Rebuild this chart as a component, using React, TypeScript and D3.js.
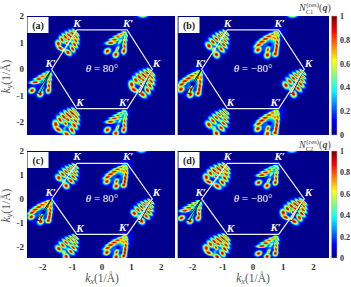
import React from "react";
import * as d3 from "d3";

type Lobe = [number, number, number, number, number, number];

const xTicks = [-2, -1, 0, 1, 2];
const yTicks = [-2, -1, 0, 1, 2];
const barTicks = [0, 0.2, 0.4, 0.6, 0.8, 1];
const jetStops = [0, 0.125, 0.375, 0.625, 0.875, 1];
const jetColors = ["#00008c", "#0000ff", "#00ffff", "#ffff00", "#ff0000", "#800000"];
const levels = [0.05, 0.08, 0.12, 0.16, 0.2, 0.25, 0.3, 0.35, 0.4, 0.45, 0.5, 0.55, 0.6, 0.65, 0.7, 0.75, 0.8, 0.85, 0.9, 0.95, 1.0];

// s, t, long sigma, short sigma, lean in degrees, peak
const narrowLobes: Lobe[] = [
  [0.5, 0, 0.38, 0.11, 0, 0.16],
  [0.1, -0.05, 0.08, 0.03, 75, 0.8], [0.21, -0.09, 0.1, 0.034, 75, 0.85], [0.33, -0.13, 0.12, 0.038, 75, 0.9],
  [0.47, -0.16, 0.13, 0.044, 72, 0.95], [0.63, -0.2, 0.13, 0.052, 70, 0.95], [0.82, -0.24, 0.11, 0.07, 60, 0.98],
  [0.13, 0.05, 0.08, 0.03, 75, 0.8], [0.26, 0.09, 0.1, 0.034, 75, 0.85], [0.39, 0.13, 0.12, 0.038, 75, 0.9],
  [0.54, 0.16, 0.13, 0.046, 72, 0.95], [0.72, 0.17, 0.12, 0.055, 70, 0.95], [0.98, 0.14, 0.1, 0.075, 50, 0.98],
  [0.86, -0.02, 0.07, 0.055, 40, 0.7],
];
const wideLobes: Lobe[] = [
  [0.52, -0.03, 0.4, 0.17, 0, 0.2],
  [0.09, -0.06, 0.1, 0.034, 70, 0.8], [0.2, -0.12, 0.12, 0.04, 70, 0.9], [0.33, -0.18, 0.13, 0.045, 70, 0.95],
  [0.47, -0.24, 0.13, 0.05, 68, 0.98], [0.63, -0.29, 0.12, 0.058, 60, 0.98], [0.84, -0.33, 0.11, 0.075, 40, 0.98],
  [0.22, -0.02, 0.09, 0.038, 70, 0.85], [0.36, -0.04, 0.09, 0.04, 70, 0.9], [0.5, -0.06, 0.09, 0.044, 70, 0.95], [0.66, -0.06, 0.08, 0.046, 60, 0.95],
  [0.14, 0.08, 0.1, 0.034, 70, 0.8], [0.27, 0.13, 0.12, 0.04, 70, 0.9], [0.41, 0.18, 0.13, 0.045, 70, 0.95],
  [0.57, 0.22, 0.13, 0.05, 65, 0.98], [0.76, 0.24, 0.12, 0.058, 55, 0.98], [0.98, 0.17, 0.12, 0.068, 75, 0.98],
  [0.97, -0.16, 0.12, 0.06, 85, 0.98], [0.82, 0.0, 0.06, 0.045, 0, 0.4],
];
const thinFanLobes: Lobe[] = [
  [0.5, 0, 0.36, 0.16, 0, 0.22],
  [0.13, -0.05, 0.07, 0.028, -62, 0.75], [0.25, -0.1, 0.095, 0.032, -62, 0.85], [0.38, -0.15, 0.11, 0.036, -62, 0.92],
  [0.53, -0.2, 0.125, 0.04, -60, 0.98], [0.7, -0.25, 0.13, 0.048, -55, 0.98], [1.02, -0.19, 0.09, 0.072, -15, 0.98],
  [0.5, 0.0, 0.1, 0.03, 0, 0.65], [0.78, 0.06, 0.09, 0.036, 5, 0.8], [0.99, 0.12, 0.09, 0.072, 8, 0.98],
  [0.17, 0.06, 0.07, 0.026, 52, 0.7], [0.3, 0.1, 0.09, 0.032, 52, 0.82], [0.44, 0.15, 0.1, 0.036, 50, 0.9], [0.58, 0.22, 0.1, 0.042, 45, 0.95], [0.74, 0.29, 0.09, 0.062, 22, 0.98],
];
const bigFanLobes: Lobe[] = [
  [0.5, 0.0, 0.38, 0.19, 0, 0.34],
  [0.12, -0.05, 0.07, 0.032, -55, 0.8], [0.24, -0.11, 0.1, 0.036, -55, 0.88], [0.37, -0.17, 0.12, 0.04, -55, 0.95],
  [0.51, -0.22, 0.13, 0.044, -52, 0.98], [0.66, -0.27, 0.13, 0.048, -48, 0.98], [0.82, -0.3, 0.12, 0.052, -35, 0.98], [0.99, -0.23, 0.095, 0.075, -10, 0.98],
  [0.15, 0.06, 0.07, 0.03, 50, 0.8], [0.28, 0.12, 0.1, 0.036, 50, 0.88], [0.42, 0.18, 0.11, 0.04, 48, 0.95], [0.56, 0.24, 0.11, 0.046, 42, 0.98], [0.7, 0.3, 0.1, 0.05, 35, 0.98], [0.84, 0.34, 0.08, 0.07, 20, 0.98],
  [0.34, -0.02, 0.08, 0.04, -8, 0.8], [0.34, 0.05, 0.08, 0.04, 8, 0.8],
  [0.82, 0.05, 0.1, 0.05, 10, 0.92], [1.0, 0.14, 0.095, 0.075, 10, 0.98],
  [0.62, 0.0, 0.06, 0.055, 0, -0.9],
];
const templates: Record<string, Lobe[]> = { narrow: narrowLobes, wide: wideLobes, thin: thinFanLobes, big: bigFanLobes };

const hexX = [-0.85, 0.85, 1.7, 0.85, -0.85, -1.7];
const hexY = [1.48, 1.48, 0, -1.48, -1.48, 0];
const hexNames = ["K", "K′", "K", "K′", "K", "K′"];
const labelDx = [0, 1, 4, -3, 3, -1];
const labelDy = [-3, -3, -2.5, -3, -2.5, -2.5];

const panelATemplates = ["wide", "thin", "wide", "thin", "wide", "thin"];
const panelBTemplates = ["narrow", "big", "narrow", "big", "narrow", "big"];
const panelCTemplates = ["narrow", "big", "narrow", "big", "narrow", "big"];
const panelDTemplates = ["wide", "thin", "wide", "thin", "wide", "thin"];
const panelAScale = [0.9, 1, 1, 1, 1.02, 1];

const panels = [
  { tag: "(a)", angle: "θ = 80°", left: 27, right: 175, top: 16, bottom: 135, kinds: panelATemplates, sizes: panelAScale, capX: 1.37, leftTick: true, bottomTick: false, labelX: 102 },
  { tag: "(b)", angle: "θ = −80°", left: 178, right: 329, top: 16, bottom: 135, kinds: panelBTemplates, sizes: [1, 1, 1, 1, 1, 1], capX: 1.3, leftTick: false, bottomTick: false, labelX: 253 },
  { tag: "(c)", angle: "θ = 80°", left: 27, right: 175, top: 151, bottom: 258, kinds: panelCTemplates, sizes: [1, 1, 1, 1, 1, 1], capX: 1.33, leftTick: true, bottomTick: true, labelX: 102 },
  { tag: "(d)", angle: "θ = −80°", left: 178, right: 329, top: 151, bottom: 258, kinds: panelDTemplates, sizes: [1, 1, 1, 1, 1, 1], capX: 1.28, leftTick: false, bottomTick: true, labelX: 253 },
];

const jet = d3.scaleLinear<string>().domain(jetStops).range(jetColors).clamp(true);
const serif = "'Liberation Serif', serif";
const axisDir = [-0.5, -0.866];
const axisPerp = [0.866, -0.5];

function field(p: (typeof panels)[number], x: d3.ScaleLinear<number, number>, y: d3.ScaleLinear<number, number>) {
  const w = Math.round((p.right - p.left) * 2);
  const h = Math.round((p.bottom - p.top) * 2);
  const values = new Float64Array(w * h);
  const mask = new Float64Array(w * h).fill(1);
  const add = (cx: number, cy: number, ux: number, uy: number, a: number, b: number, peak: number) => {
    const vx = -uy, vy = ux;
    const reach = 3.5 * a;
    const i0 = Math.max(0, Math.floor((x(cx - reach) - p.left) * 2));
    const i1 = Math.min(w - 1, Math.ceil((x(cx + reach) - p.left) * 2));
    const j0 = Math.max(0, Math.floor((y(cy + reach) - p.top) * 2));
    const j1 = Math.min(h - 1, Math.ceil((y(cy - reach) - p.top) * 2));
    for (let j = j0; j <= j1; j++) {
      const ky = y.invert(p.top + j / 2);
      for (let i = i0; i <= i1; i++) {
        const kx = x.invert(p.left + i / 2);
        const dx = kx - cx, dy = ky - cy;
        const e1 = dx * ux + dy * uy, e2 = dx * vx + dy * vy;
        const g = Math.abs(peak) * Math.exp(-0.5 * (e1 * e1 / (a * a) + e2 * e2 / (b * b)));
        if (peak < 0) mask[j * w + i] *= 1 - g;
        else values[j * w + i] += g * g * g;
      }
    }
  };
  p.kinds.forEach((kind, idx) => {
    const size = p.sizes[idx];
    templates[kind].forEach(([s, t, a, b, lean, peak]) => {
      const cx = hexX[idx] + size * (s * axisDir[0] + t * axisPerp[0]);
      const cy = hexY[idx] + size * (s * axisDir[1] + t * axisPerp[1]);
      const r = (lean * Math.PI) / 180;
      const ux = Math.cos(r) * axisDir[0] + Math.sin(r) * axisPerp[0];
      const uy = Math.cos(r) * axisDir[1] + Math.sin(r) * axisPerp[1];
      add(cx, cy, ux, uy, a * size, b * size, peak);
    });
  });
  add(p.capX, 2.07, 1, 0, 0.12, 0.08, 0.95);
  return { w, h, values: Array.from(values, (v, k) => Math.min(Math.cbrt(v) * mask[k], 1.05)) };
}

function Panel({ p, i }: { p: (typeof panels)[number]; i: number }) {
  const cx = p.labelX;
  const unit = (p.right - p.left) / 5;
  const x = d3.scaleLinear().domain([-2.5, 2.5]).range([cx - 2.5 * unit, cx + 2.5 * unit]);
  const y = d3.scaleLinear().domain([2, -2.47]).range([p.top, p.bottom]);
  const { w, h, values } = React.useMemo(() => field(p, x, y), []);
  const contours = React.useMemo(() => d3.contours().size([w, h]).thresholds(levels)(values), []);
  const path = d3.geoPath();
  const hexLine = d3.line<number>().x((_, k) => x(hexX[k])).y((_, k) => y(hexY[k])).curve(d3.curveLinearClosed);
  const id = `clip${i}`;
  const lineLeft = [[-1.7, 0], [-2.2, -0.88], [-2.1, -0.92]];
  const lineRight = [[1.7, 0], [1.2, -0.9], [1.3, -0.9]];
  const wedge = (pts: number[][]) => pts.map(([a, b]) => `${x(a)},${y(b)}`).join(" ");
  return (
    <g>
      <clipPath id={id}><rect x={p.left} y={p.top} width={p.right - p.left} height={p.bottom - p.top} /></clipPath>
      <g clipPath={`url(#${id})`}>
        <rect x={p.left} y={p.top} width={p.right - p.left} height={p.bottom - p.top} fill={jet(0)} />
        <g transform={`translate(${p.left},${p.top}) scale(0.5)`} filter="url(#soft)">
          {contours.map((c, k) => (
            <path key={k} d={path(c as any) || ""} fill={jet(c.value)} />
          ))}
        </g>
        <polygon points={wedge(lineLeft)} fill={i % 3 === 0 ? "#22c4e8" : "none"} stroke="#000" strokeWidth={0.8} />
        <polygon points={wedge(lineRight)} fill="#fff" stroke="#000" strokeWidth={0.8} />
        <path d={hexLine(hexX) || ""} fill="none" stroke="#eeeef8" strokeWidth={1.2} />
      </g>
      {i % 2 === 1 && <line x1={177.5} x2={177.5} y1={p.top} y2={p.bottom} stroke="#a8a8cc" strokeWidth={1} />}
      <rect x={p.left + 0.5} y={p.top + 1} width={21} height={16} fill="#fff" />
      <text x={p.left + 11} y={p.top + 13} textAnchor="middle" fontFamily={serif} fontWeight="bold" fontSize={10} fill="#222">{p.tag}</text>
      {hexNames.map((n, k) => (
        <text key={k} x={x(hexX[k]) + labelDx[k]} y={y(hexY[k]) + labelDy[k]} textAnchor="middle" fontFamily={serif} fontStyle="italic" fontWeight="bold" fontSize={11} fill="#fff">{n}</text>
      ))}
      <text x={x(0)} y={y(0) + 3} textAnchor="middle" fontFamily={serif} fontSize={11} fill="#fff">
        <tspan fontStyle="italic">θ</tspan>{p.angle.slice(1)}
      </text>
      {p.leftTick && yTicks.map((t) => (
        <text key={t} x={24} y={y(t) + 3} textAnchor="end" fontFamily={serif} fontWeight="bold" fontSize={9} fill="#333">{t}</text>
      ))}
      {p.bottomTick && xTicks.map((t) => (
        <text key={t} x={x(t)} y={p.bottom + 12} textAnchor="middle" fontFamily={serif} fontWeight="bold" fontSize={9} fill="#333">{t}</text>
      ))}
      {p.leftTick && (
        <text transform={`translate(10,${(p.top + p.bottom) / 2 + 1}) rotate(-90)`} textAnchor="middle" fontFamily={serif} fontSize={11.5} fill="#555">
          <tspan fontStyle="italic">k</tspan><tspan fontSize={8} dy={2} fontStyle="italic">y</tspan><tspan dy={-2}>(1/Å)</tspan>
        </text>
      )}
      {p.bottomTick && (
        <text x={cx} y={p.bottom + 24} textAnchor="middle" fontFamily={serif} fontSize={11.5} fill="#555">
          <tspan fontStyle="italic">k</tspan><tspan fontSize={8} dy={2} fontStyle="italic">x</tspan><tspan dy={-2}>(1/Å)</tspan>
        </text>
      )}
    </g>
  );
}

function ColorBar({ top, bottom, sub, titleY }: { top: number; bottom: number; sub: string; titleY: number }) {
  const y = d3.scaleLinear().domain([0, 1]).range([bottom, top]);
  const id = `jet${sub}`;
  return (
    <g>
      <defs>
        <linearGradient id={id} x1="0" x2="0" y1="1" y2="0">
          {jetStops.map((s, k) => <stop key={k} offset={s} stopColor={jetColors[k]} />)}
        </linearGradient>
      </defs>
      <rect x={331.5} y={top} width={5.5} height={bottom - top} fill={`url(#${id})`} stroke="#b0b0c0" strokeWidth={0.5} />
      {barTicks.map((t) => (
        <text key={t} x={340} y={y(t) + 3} fontFamily={serif} fontWeight="bold" fontSize={8} fill="#333">{t}</text>
      ))}
      <text x={299} y={titleY} fontFamily={serif} fontSize={10} fill="#444">
        <tspan fontStyle="italic">N</tspan>
        <tspan fontSize={6.5} dy={3}>{`C${sub}`}</tspan>
        <tspan fontSize={7} dy={-7} dx={-7}>(res)</tspan>
        <tspan fontSize={10} dy={4}>(</tspan>
        <tspan fontWeight="bold" fontStyle="italic">q</tspan>
        <tspan>)</tspan>
      </text>
    </g>
  );
}

export default function App() {
  return (
    <svg width={351} height={287} style={{ position: "fixed", left: 0, top: 0, background: "#fff" }}>
      <defs>
        <filter id="soft" x="0" y="0" width="100%" height="100%"><feGaussianBlur stdDeviation="0.8" /></filter>
      </defs>
      {panels.map((p, i) => <Panel key={i} p={p} i={i} />)}
      <ColorBar top={16} bottom={135} sub="1" titleY={11} />
      <ColorBar top={151} bottom={258} sub="2" titleY={148} />
    </svg>
  );
}
